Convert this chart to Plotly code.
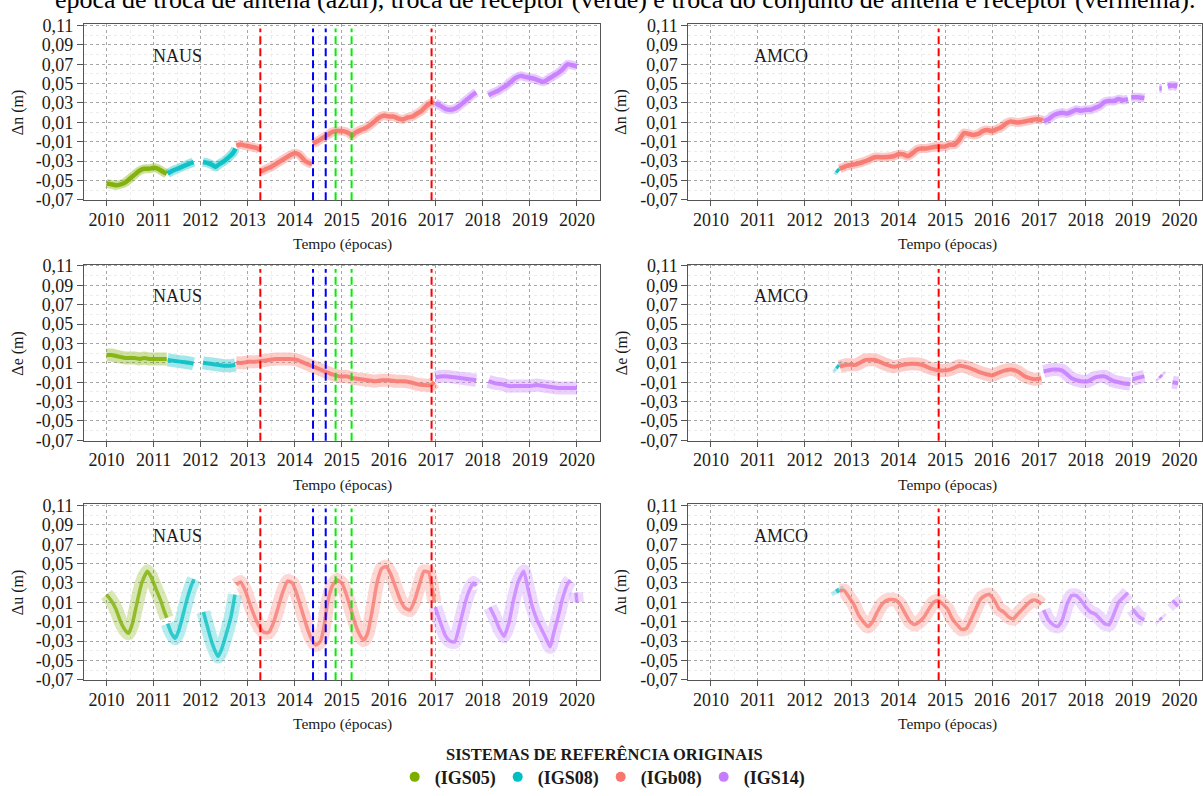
import plotly.graph_objects as go

# ---------------- DATA ----------------
FRAMES = ["IGS05", "IGS08", "IGb08", "IGS14"]
FRAME_COLORS = ["#7CAE00", "#00BFC4", "#F8766D", "#C77CFF"]

YEARS = [2010, 2011, 2012, 2013, 2014, 2015, 2016, 2017, 2018, 2019, 2020]
YEAR_LABELS = [str(y) for y in YEARS]
Y_TICKS = [-0.07, -0.05, -0.03, -0.01, 0.01, 0.03, 0.05, 0.07, 0.09, 0.11]
Y_TICK_LABELS = ["-0,07", "-0,05", "-0,03", "-0,01", "0,01", "0,03", "0,05", "0,07", "0,09", "0,11"]

# epochs of equipment changes
naus_antenna = [2014.39, 2014.66]     # blue
naus_receiver = [2014.87, 2015.21]    # green
naus_both = [2013.27, 2016.91]        # red
amco_both = [2014.86]                 # red

# Each series: one list per reference frame [IGS05, IGS08, IGb08, IGS14]; None = gap

# NAUS  Δn
naus_n_t = [
    [2010.0, 2010.1, 2010.2, 2010.3, 2010.4, 2010.5, 2010.6, 2010.7, 2010.8, 2010.9, 2011.0, 2011.1, 2011.2, 2011.28],
    [2011.3, 2011.4, 2011.5, 2011.6, 2011.7, 2011.8, 2011.85, None,
     2012.05, 2012.15, 2012.25, 2012.32, 2012.4, 2012.5, 2012.6, 2012.7, 2012.74],
    [2012.76, 2012.85, 2012.95, 2013.05, 2013.15, 2013.22, 2013.26, None,
     2013.28, 2013.4, 2013.5, 2013.6, 2013.7, 2013.8, 2013.9, 2014.0, 2014.08, 2014.15, 2014.22, 2014.3, 2014.37, None,
     2014.39, 2014.5, 2014.6, 2014.7, 2014.8, 2014.9, 2015.0, 2015.1, 2015.18, 2015.22, 2015.28, 2015.4, 2015.5,
     2015.6, 2015.7, 2015.8, 2015.9, 2016.0, 2016.1, 2016.2, 2016.3, 2016.4, 2016.5, 2016.6, 2016.7, 2016.8, 2016.9, 2016.97],
    [2016.99, 2017.1, 2017.2, 2017.3, 2017.4, 2017.5, 2017.6, 2017.7, 2017.8, 2017.86, None,
     2018.12, 2018.2, 2018.3, 2018.4, 2018.5, 2018.6, 2018.7, 2018.8, 2018.9, 2019.0, 2019.1, 2019.2, 2019.3,
     2019.4, 2019.5, 2019.6, 2019.7, 2019.8, 2019.9, 2020.0],
]
naus_n_v = [
    [-0.053, -0.054, -0.055, -0.054, -0.052, -0.048, -0.044, -0.040, -0.038, -0.038, -0.037, -0.038, -0.041, -0.043],
    [-0.043, -0.040, -0.038, -0.036, -0.034, -0.032, -0.031, None,
     -0.031, -0.032, -0.034, -0.036, -0.033, -0.030, -0.026, -0.021, -0.017],
    [-0.014, -0.013, -0.014, -0.015, -0.016, -0.017, -0.019, None,
     -0.041, -0.038, -0.036, -0.033, -0.030, -0.027, -0.024, -0.022, -0.023, -0.026, -0.030, -0.032, -0.033, None,
     -0.012, -0.009, -0.006, -0.003, 0.000, 0.001, 0.001, 0.000, -0.002, -0.004, -0.001, 0.002, 0.004,
     0.007, 0.011, 0.015, 0.017, 0.016, 0.016, 0.014, 0.013, 0.015, 0.016, 0.019, 0.022, 0.027, 0.030, 0.030],
    [0.030, 0.027, 0.024, 0.023, 0.024, 0.027, 0.031, 0.035, 0.039, 0.041, None,
     0.038, 0.040, 0.042, 0.045, 0.048, 0.052, 0.056, 0.058, 0.057, 0.056, 0.055, 0.053, 0.052,
     0.055, 0.058, 0.061, 0.065, 0.070, 0.069, 0.068],
]

# NAUS  Δe
naus_e_t = [
    [2010.0, 2010.1, 2010.2, 2010.3, 2010.4, 2010.5, 2010.6, 2010.7, 2010.8, 2010.9, 2011.0, 2011.1, 2011.2, 2011.28],
    [2011.3, 2011.45, 2011.6, 2011.75, 2011.85, None,
     2012.05, 2012.2, 2012.35, 2012.5, 2012.62, 2012.74],
    [2012.76, 2012.9, 2013.0, 2013.15, 2013.3, 2013.45, 2013.6, 2013.75, 2013.9, 2014.05, 2014.2, 2014.35, 2014.5,
     2014.65, 2014.8, 2014.95, 2015.1, 2015.25, 2015.4, 2015.55, 2015.7, 2015.85, 2016.0, 2016.15, 2016.3, 2016.45,
     2016.6, 2016.75, 2016.9, 2016.97],
    [2016.99, 2017.1, 2017.25, 2017.4, 2017.55, 2017.7, 2017.86, None,
     2018.12, 2018.25, 2018.4, 2018.55, 2018.7, 2018.85, 2019.0, 2019.15, 2019.3, 2019.45, 2019.6, 2019.75, 2019.9, 2020.0],
]
naus_e_v = [
    [0.018, 0.018, 0.017, 0.016, 0.015, 0.015, 0.015, 0.014, 0.015, 0.014, 0.014, 0.014, 0.014, 0.014],
    [0.013, 0.012, 0.011, 0.010, 0.009, None,
     0.010, 0.009, 0.008, 0.007, 0.007, 0.008],
    [0.010, 0.010, 0.011, 0.011, 0.012, 0.013, 0.014, 0.014, 0.014, 0.013, 0.010, 0.007, 0.004,
     0.001, -0.002, -0.004, -0.004, -0.006, -0.007, -0.008, -0.009, -0.008, -0.008, -0.009, -0.009, -0.010,
     -0.012, -0.013, -0.013, -0.010],
    [-0.005, -0.004, -0.004, -0.005, -0.006, -0.007, -0.008, None,
     -0.009, -0.011, -0.012, -0.014, -0.014, -0.014, -0.014, -0.013, -0.014, -0.015, -0.016, -0.016, -0.016, -0.016],
]

# NAUS  Δu
naus_u_t = [
    [2010.0, 2010.1, 2010.2, 2010.3, 2010.4, 2010.47, 2010.55, 2010.65, 2010.75, 2010.87, 2010.95, 2011.05, 2011.15,
     2011.22, 2011.28],
    [2011.3, 2011.38, 2011.46, 2011.53, 2011.6, 2011.7, 2011.8, 2011.86, None,
     2012.06, 2012.15, 2012.25, 2012.37, 2012.45, 2012.55, 2012.65, 2012.73],
    [2012.76, 2012.85, 2012.95, 2013.05, 2013.15, 2013.25, 2013.35, 2013.45, 2013.55, 2013.65, 2013.75, 2013.85,
     2013.95, 2014.05, 2014.15, 2014.25, 2014.35, 2014.45, 2014.55, 2014.62, 2014.7, 2014.8, 2014.9, 2015.0,
     2015.1, 2015.2, 2015.3, 2015.4, 2015.47, 2015.55, 2015.65, 2015.75, 2015.85, 2015.95, 2016.05, 2016.15,
     2016.25, 2016.35, 2016.45, 2016.55, 2016.65, 2016.75, 2016.85, 2016.92, 2016.97],
    [2016.99, 2017.1, 2017.2, 2017.3, 2017.4, 2017.5, 2017.6, 2017.7, 2017.8, 2017.86, None,
     2018.15, 2018.25, 2018.35, 2018.45, 2018.55, 2018.65, 2018.75, 2018.87, 2018.95, 2019.05, 2019.15, 2019.25,
     2019.35, 2019.43, 2019.5, 2019.6, 2019.7, 2019.8, 2019.86, None,
     2019.98, 2020.0],
]
naus_u_v = [
    [0.018, 0.012, 0.003, -0.010, -0.019, -0.022, -0.012, 0.010, 0.030, 0.042, 0.036, 0.024, 0.012,
     0.002, -0.006],
    [-0.012, -0.022, -0.027, -0.020, -0.008, 0.011, 0.027, 0.034, None,
     0.000, -0.016, -0.033, -0.046, -0.038, -0.022, -0.004, 0.018],
    [0.028, 0.031, 0.022, 0.008, -0.005, -0.015, -0.021, -0.021, -0.011, 0.005, 0.021, 0.032,
     0.030, 0.018, 0.002, -0.014, -0.027, -0.034, -0.030, -0.016, 0.010, 0.027, 0.033, 0.030,
     0.018, 0.002, -0.014, -0.025, -0.029, -0.022, 0.002, 0.030, 0.045, 0.047, 0.038, 0.025,
     0.012, 0.004, 0.002, 0.012, 0.028, 0.042, 0.041, 0.025, 0.010],
    [0.005, -0.011, -0.024, -0.030, -0.031, -0.015, 0.005, 0.021, 0.030, 0.027, None,
     0.005, -0.005, -0.017, -0.025, -0.012, 0.012, 0.031, 0.042, 0.026, 0.006, -0.008, -0.018,
     -0.028, -0.036, -0.023, -0.005, 0.015, 0.029, 0.033, None,
     0.020, 0.010],
]

# AMCO  Δn
amco_n_t = [
    [],
    [2012.68, 2012.73],
    [2012.75, 2012.9, 2013.1, 2013.3, 2013.5, 2013.7, 2013.9, 2014.0, 2014.1, 2014.2, 2014.3, 2014.4, 2014.5,
     2014.6, 2014.7, 2014.85, 2015.0, 2015.1, 2015.2, 2015.3, 2015.4, 2015.5, 2015.6, 2015.7, 2015.8, 2015.9,
     2016.0, 2016.1, 2016.2, 2016.3, 2016.4, 2016.5, 2016.6, 2016.7, 2016.8, 2016.9, 2017.0, 2017.08],
    [2017.1, 2017.2, 2017.3, 2017.4, 2017.5, 2017.6, 2017.7, 2017.8, 2017.9, 2018.0, 2018.1, 2018.2, 2018.3,
     2018.4, 2018.5, 2018.6, 2018.7, 2018.8, 2018.9, None,
     2018.97, 2019.1, 2019.25, None,
     2019.57, 2019.62, None,
     2019.75, 2019.85, 2019.95],
]
amco_n_v = [
    [],
    [-0.039, -0.041],
    [-0.038, -0.035, -0.033, -0.030, -0.026, -0.026, -0.025, -0.023, -0.023, -0.025, -0.022, -0.018, -0.017,
     -0.017, -0.016, -0.015, -0.015, -0.013, -0.013, -0.008, -0.001, -0.002, -0.003, -0.002, 0.001, 0.002,
     0.001, 0.003, 0.005, 0.009, 0.011, 0.010, 0.010, 0.011, 0.012, 0.013, 0.013, 0.012],
    [0.011, 0.013, 0.017, 0.019, 0.020, 0.019, 0.021, 0.023, 0.022, 0.023, 0.023, 0.025, 0.027,
     0.031, 0.032, 0.032, 0.034, 0.033, 0.034, None,
     0.036, 0.036, 0.035, None,
     0.045, 0.045, None,
     0.047, 0.048, 0.047],
]

# AMCO  Δe
amco_e_t = [
    [],
    [2012.68, 2012.73],
    [2012.75, 2012.9, 2013.1, 2013.3, 2013.5, 2013.7, 2013.9, 2014.1, 2014.3, 2014.5, 2014.7, 2014.9, 2015.1,
     2015.3, 2015.5, 2015.7, 2015.9, 2016.0, 2016.2, 2016.4, 2016.55, 2016.7, 2016.9, 2017.05],
    [2017.1, 2017.3, 2017.5, 2017.7, 2017.9, 2018.05, 2018.2, 2018.4, 2018.6, 2018.8, 2018.95, None,
     2019.0, 2019.15, 2019.25, None,
     2019.58, 2019.62, None,
     2019.85, 2019.97],
]
amco_e_v = [
    [],
    [0.007, 0.005],
    [0.006, 0.008, 0.008, 0.013, 0.013, 0.009, 0.006, 0.008, 0.009, 0.008, 0.004, 0.002, 0.003,
     0.007, 0.005, 0.001, -0.002, -0.003, 0.001, 0.003, 0.001, -0.004, -0.007, -0.006],
    [0.001, 0.003, 0.002, -0.006, -0.009, -0.009, -0.005, -0.004, -0.009, -0.011, -0.012, None,
     -0.007, -0.005, -0.004, None,
     -0.003, -0.005, None,
     -0.010, -0.011],
]

# AMCO  Δu
amco_u_t = [
    [],
    [2012.68, 2012.73],
    [2012.75, 2012.85, 2012.95, 2013.05, 2013.15, 2013.25, 2013.35, 2013.45, 2013.55, 2013.65, 2013.75, 2013.85,
     2013.95, 2014.05, 2014.15, 2014.25, 2014.35, 2014.45, 2014.55, 2014.65, 2014.75, 2014.85, 2014.95, 2015.05,
     2015.15, 2015.25, 2015.35, 2015.45, 2015.55, 2015.65, 2015.75, 2015.85, 2015.95, 2016.05, 2016.15, 2016.25,
     2016.35, 2016.45, 2016.55, 2016.65, 2016.75, 2016.85, 2016.95, 2017.05],
    [2017.1, 2017.2, 2017.3, 2017.4, 2017.5, 2017.6, 2017.7, 2017.8, 2017.9, 2018.0, 2018.1, 2018.2, 2018.3,
     2018.4, 2018.5, 2018.6, 2018.7, 2018.8, 2018.9, None,
     2019.0, 2019.1, 2019.2, 2019.25, None,
     2019.58, 2019.62, None,
     2019.85, 2019.97],
]
amco_u_v = [
    [],
    [0.024, 0.020],
    [0.022, 0.022, 0.015, 0.008, -0.003, -0.010, -0.015, -0.010, 0.000, 0.008, 0.012, 0.013,
     0.012, 0.007, -0.002, -0.010, -0.013, -0.010, -0.005, 0.003, 0.010, 0.012, 0.008, 0.003,
     -0.007, -0.013, -0.018, -0.017, -0.008, 0.003, 0.013, 0.017, 0.018, 0.012, 0.003, 0.000,
     -0.005, -0.007, -0.002, 0.003, 0.008, 0.012, 0.012, 0.008],
    [0.002, -0.008, -0.013, -0.015, -0.008, 0.008, 0.017, 0.017, 0.012, 0.005, 0.000, -0.002, -0.007,
     -0.012, -0.013, -0.002, 0.010, 0.015, 0.020, None,
     0.003, -0.003, -0.007, -0.008, None,
     -0.006, -0.008, None,
     0.012, 0.006],
]

TITLE_TEXT = "época de troca de antena (azul), troca de receptor (verde) e troca do conjunto de antena e receptor (vermelha)."
LEGEND_TITLE = "SISTEMAS DE REFERÊNCIA ORIGINAIS"
X_TITLE = "Tempo (épocas)"

# ---------------- LAYOUT / STYLE ----------------
W, H = 1203, 796
SERIF = "Liberation Serif"
TXT = "#1a1a1a"
COL_DOMAINS = [[84 / W, 600 / W], [689 / W, 1.0]]
COL_TITLE_X = [343 / W, 948 / W]
COL_YTITLE_X = [18 / W, 622 / W]
ROW_PX = [(16.5, 197.5), (263.5, 444.5), (509.5, 690.5)]
ROW_DOMAINS = [[1 - b / H, 1 - t / H] for t, b in ROW_PX]
XRANGE = [2009.52, 2020.48]
YRANGE = [-0.0705, 0.1115]

# (halo width, halo opacity, core width, core opacity) per component
BAND = {"n": (9, 0.38, 4.5, 0.9), "e": (13, 0.36, 4, 0.85), "u": (14, 0.28, 3.5, 0.75)}

panels = [
    (0, 0, naus_n_t, naus_n_v, "Δn (m)", "NAUS", "n"),
    (0, 1, amco_n_t, amco_n_v, "Δn (m)", "AMCO", "n"),
    (1, 0, naus_e_t, naus_e_v, "Δe (m)", "NAUS", "e"),
    (1, 1, amco_e_t, amco_e_v, "Δe (m)", "AMCO", "e"),
    (2, 0, naus_u_t, naus_u_v, "Δu (m)", "NAUS", "u"),
    (2, 1, amco_u_t, amco_u_v, "Δu (m)", "AMCO", "u"),
]

fig = go.Figure()
layout = dict(
    width=W, height=H, margin=dict(l=0, r=0, t=0, b=0),
    paper_bgcolor="white", plot_bgcolor="white",
    font=dict(family=SERIF, color=TXT),
    showlegend=True,
)
annotations = []
shapes = []


def split_runs(ts, vs):
    out, cx, cy = [], [], []
    for ti, vi in zip(ts, vs):
        if ti is None or vi is None:
            if cx:
                out.append((cx, cy))
            cx, cy = [], []
        else:
            cx.append(ti)
            cy.append(vi)
    if cx:
        out.append((cx, cy))
    return out


axis_common = dict(
    tickfont=dict(family=SERIF, size=18, color=TXT),
    ticks="outside", tickwidth=1, tickcolor="#555555",
    showline=True, linecolor="#555555", linewidth=1.2, mirror=True,
    showgrid=True, gridcolor="#a6a6a6", gridwidth=1, griddash="3px,3px",
    zeroline=False,
)

for idx, (r, c, T, V, ytitle, station, comp) in enumerate(panels):
    n = idx + 1
    xa = "x" if n == 1 else f"x{n}"
    ya = "y" if n == 1 else f"y{n}"
    xkey = "xaxis" if n == 1 else f"xaxis{n}"
    ykey = "yaxis" if n == 1 else f"yaxis{n}"
    layout[xkey] = dict(
        domain=COL_DOMAINS[c], anchor=ya, range=XRANGE,
        tickvals=YEARS, ticktext=YEAR_LABELS, ticklen=5, ticklabelstandoff=-2,
        minor=dict(tickvals=[y - 0.5 for y in YEARS] + [YEARS[-1] + 0.5], showgrid=True,
                   gridcolor="#ececec", gridwidth=1),
        **axis_common,
    )
    layout[ykey] = dict(
        domain=ROW_DOMAINS[r], anchor=xa, range=YRANGE,
        tickvals=Y_TICKS, ticktext=Y_TICK_LABELS, ticklen=6,
        minor=dict(tickvals=[round(yv + 0.01, 2) for yv in Y_TICKS[:-1]], showgrid=True,
                   gridcolor="#ececec", gridwidth=1),
        **axis_common,
    )
    hw, ho, cw, co = BAND[comp]
    for fi, (ts, vs) in enumerate(zip(T, V)):
        col = FRAME_COLORS[fi]
        for xs, ys in split_runs(ts, vs):
            for wid, op in ((hw, ho), (cw, co)):
                fig.add_trace(go.Scatter(
                    x=xs, y=ys, mode="lines", xaxis=xa, yaxis=ya,
                    line=dict(color=col, width=wid, shape="spline", smoothing=0.5),
                    opacity=op, showlegend=False, hoverinfo="skip",
                ))
    # station label
    annotations.append(dict(
        x=2011.5, y=0.079, xref=xa, yref=ya, text=station, showarrow=False,
        xanchor="center", yanchor="middle",
        font=dict(family=SERIF, size=18, color=TXT),
    ))
    t_px, b_px = ROW_PX[r]
    annotations.append(dict(
        x=COL_TITLE_X[c], y=1 - (b_px + 45) / H, xref="paper", yref="paper",
        text=X_TITLE, showarrow=False, xanchor="center", yanchor="middle",
        font=dict(family=SERIF, size=15.5, color=TXT),
    ))
    annotations.append(dict(
        x=COL_YTITLE_X[c], y=1 - (t_px + b_px) / 2 / H, xref="paper", yref="paper",
        text=ytitle, showarrow=False, textangle=-90, xanchor="center", yanchor="middle",
        font=dict(family=SERIF, size=16, color=TXT),
    ))
    if station == "NAUS":
        groups = [(naus_both, "#FF0000"), (naus_antenna, "#0000FF"), (naus_receiver, "#00EE00")]
    else:
        groups = [(amco_both, "#FF0000")]
    for xs_, col in groups:
        for xv in xs_:
            shapes.append(dict(
                type="line", xref=xa, yref=f"{ya} domain", x0=xv, x1=xv, y0=0, y1=0.975,
                line=dict(color=col, width=2, dash="8px,4px"), layer="above",
            ))

# legend entries
for fr, col in zip(FRAMES, FRAME_COLORS):
    fig.add_trace(go.Scatter(
        x=[None], y=[None], mode="markers", name=f"({fr})",
        marker=dict(size=10, color=col), xaxis="x", yaxis="y", showlegend=True,
    ))

annotations.append(dict(
    x=605.5 / W, y=1 - 767 / H, xref="paper", yref="paper", text=f"<b>{LEGEND_TITLE}</b>",
    showarrow=False, xanchor="center", yanchor="middle", font=dict(family=SERIF, size=16.5, color=TXT),
))
annotations.append(dict(
    x=626 / W, y=1 + 9 / H, xref="paper", yref="paper", text=TITLE_TEXT, showarrow=False,
    font=dict(family=SERIF, size=26, color="#000000"), yanchor="middle", xanchor="center",
))

layout["legend"] = dict(
    orientation="h", x=395 / W, xanchor="left", y=1 - 790 / H, yanchor="middle",
    font=dict(family=SERIF, size=18, color=TXT, weight="bold"),
    entrywidth=58, entrywidthmode="pixels", bgcolor="rgba(0,0,0,0)", borderwidth=0,
)
layout["annotations"] = annotations
layout["shapes"] = shapes
fig.update_layout(**layout)
fig.write_html("out.html")
